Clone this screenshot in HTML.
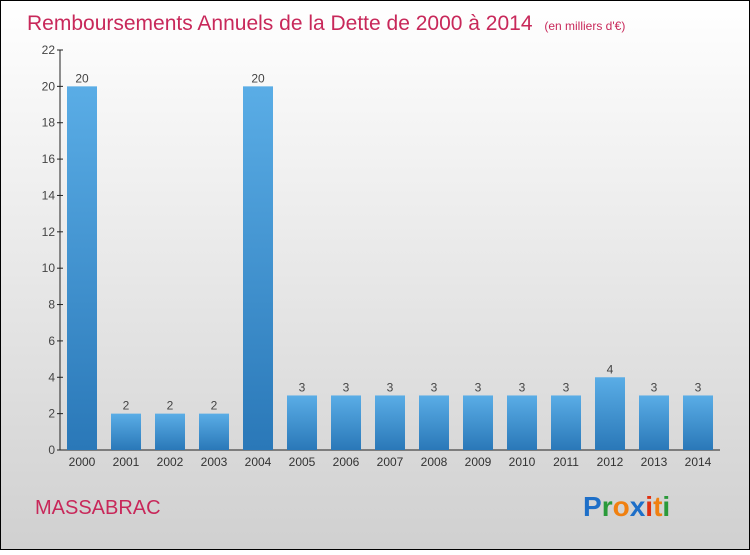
<!DOCTYPE html>
<html><head><meta charset="utf-8"><style>
body{margin:0;width:750px;height:550px;overflow:hidden;font-family:"Liberation Sans",sans-serif}
</style></head><body>
<svg width="750" height="550" xmlns="http://www.w3.org/2000/svg" id="chart">
<defs>
<linearGradient id="bg" x1="0" y1="0" x2="0" y2="1"><stop offset="0" stop-color="#ffffff"/><stop offset="1" stop-color="#d0d0d0"/></linearGradient>
<linearGradient id="bar" x1="0" y1="0" x2="0" y2="1"><stop offset="0" stop-color="#5aade6"/><stop offset="1" stop-color="#2a78b8"/></linearGradient>
</defs>
<rect x="0.5" y="0.5" width="749" height="549" fill="url(#bg)" stroke="#000"/>
<text x="27" y="30" font-size="21" fill="#c8285a">Remboursements Annuels de la Dette de 2000 à 2014 <tspan font-size="12" dx="6">(en milliers d'€)</tspan></text>
<g id="axes"></g><g id="bars"></g>
<text x="35" y="514" font-size="20" fill="#c8285a">MASSABRAC</text>
<g font-size="28" font-weight="bold" font-family="'Liberation Sans',sans-serif">
<text x="583" y="516"><tspan fill="#1e6fc8">P</tspan><tspan fill="#2a9a3a">r</tspan><tspan fill="#f08010">o</tspan><tspan fill="#1e6fc8">x</tspan><tspan fill="#e03010">i</tspan><tspan fill="#f08010">t</tspan><tspan fill="#2a9a3a">i</tspan></text>
</g>
</svg>
<script>
const categories=["2000","2001","2002","2003","2004","2005","2006","2007","2008","2009","2010","2011","2012","2013","2014"];
const values=[20,2,2,2,20,3,3,3,3,3,3,3,4,3,3];
const yTicks=[0,2,4,6,8,10,12,14,16,18,20,22];
const NS="http://www.w3.org/2000/svg";
const y=v=>450-v*400/22;
const x=i=>82+i*44;
function mk(t,a,p){const e=document.createElementNS(NS,t);for(const k in a)e.setAttribute(k,a[k]);p.appendChild(e);return e;}
const ax=document.getElementById('axes'),bg=document.getElementById('bars');
const yl=mk('line',{x1:60,y1:50,x2:60,y2:450,stroke:'#222'},ax);


const xl=mk('line',{x1:60,y1:450,x2:720,y2:450,stroke:'#222'},ax);


yTicks.forEach(t=>{
 mk('line',{x1:57,x2:63,y1:y(t),y2:y(t),stroke:'#222'},ax);
 const tx=mk('text',{x:55,y:y(t)+4,'font-size':12,fill:'#444','text-anchor':'end'},ax);
 tx.textContent=t;
 
 
});
categories.forEach((c,i)=>{
 const r=mk('rect',{x:x(i)-15,y:y(values[i]),width:30,height:450-y(values[i]),fill:'url(#bar)'},bg);
 
 
 const v=mk('text',{x:x(i),y:y(values[i])-4,'font-size':12,fill:'#444','text-anchor':'middle'},bg);
 v.textContent=values[i];
 
 
 const l=mk('text',{x:x(i),y:466,'font-size':12,fill:'#333','text-anchor':'middle'},ax);
 l.textContent=c;
 
 
});
</script>
</body></html>
